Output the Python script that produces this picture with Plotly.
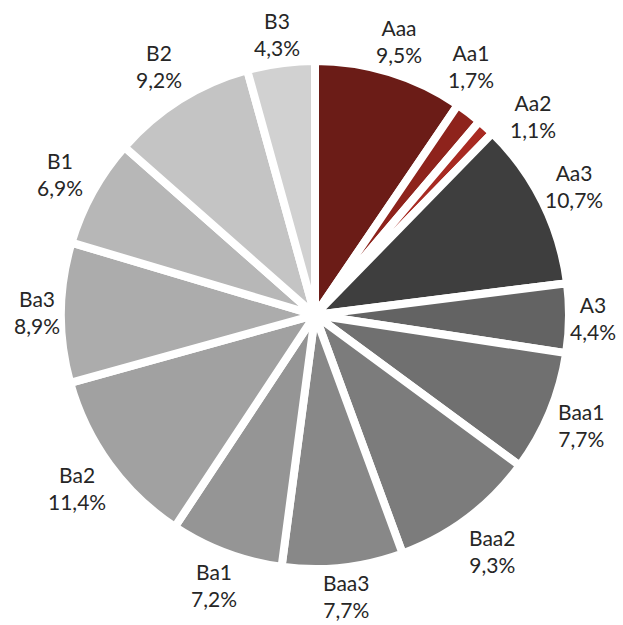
import math
import plotly.graph_objects as go

# ---- data ----
ratings = ["Aaa", "Aa1", "Aa2", "Aa3", "A3", "Baa1", "Baa2", "Baa3",
           "Ba1", "Ba2", "Ba3", "B1", "B2", "B3"]
shares = [9.5, 1.7, 1.1, 10.7, 4.4, 7.7, 9.3, 7.7, 7.2, 11.4, 8.9, 6.9, 9.2, 4.3]
slice_colors = ["#6B1C17", "#8E231C", "#A82A22", "#3E3E3E", "#636363", "#707070",
                "#7C7C7C", "#888888", "#959595", "#A1A1A1", "#ACACAC", "#B7B7B7",
                "#C4C4C4", "#D1D1D1"]

W, H = 623, 625
CX, CY = 315, 315          # pie centre in px
BORDER = 8
R_VIS = 250                # visible radius
R_PLOT = R_VIS + BORDER / 2
ml = CX - R_PLOT
mt = CY - R_PLOT
mr = W - (CX + R_PLOT)
mb = H - (CY + R_PLOT)
PW = 2 * R_PLOT
PH = 2 * R_PLOT

fig = go.Figure(go.Pie(
    labels=ratings,
    values=shares,
    sort=False,
    direction="clockwise",
    rotation=0,
    marker=dict(colors=slice_colors, line=dict(color="white", width=BORDER)),
    textinfo="none",
    hoverinfo="label+percent",
    showlegend=False,
))

# ---- label placement (Excel-like outside labels) ----
def fmt(v):
    return f"{v:.1f}".replace(".", ",") + "%"

texts = [f"{n}<br>{fmt(v)}" for n, v in zip(ratings, shares)]
total = sum(shares)
angles = []
cum = 0
for v in shares:
    angles.append(2 * math.pi * (cum + v / 2) / total)
    cum += v
boxw = [max(len(n), len(fmt(v))) * 11.5 for n, v in zip(ratings, shares)]
boxh = 44
PAD = 16

def center(i, a):
    s, c = math.sin(a), math.cos(a)
    r = R_VIS + 48 - 20 * abs(s) ** 8 - 16 * abs(c) ** 8
    return CX + r * s, CY - r * c

def overlap(i, j):
    xi, yi = center(i, angles[i])
    xj, yj = center(j, angles[j])
    return (abs(xi - xj) < (boxw[i] + boxw[j]) / 2 + PAD) and (abs(yi - yj) < boxh + PAD)

n = len(ratings)
step = math.radians(0.25)
for _ in range(2000):
    moved = False
    for i in range(n):
        j = (i + 1) % n
        if overlap(i, j):
            angles[i] -= step
            angles[j] += step
            moved = True
    if not moved:
        break

for i in range(n):
    x, y = center(i, angles[i])
    fig.add_annotation(
        x=(x - ml) / PW, y=1 - (y - mt) / PH,
        xref="paper", yref="paper",
        text=texts[i], showarrow=False,
        xanchor="center", yanchor="middle", align="center",
        font=dict(family="Lato", size=21, color="#262626"),
    )

fig.update_layout(
    width=W, height=H,
    margin=dict(l=ml, r=mr, t=mt, b=mb, pad=0),
    paper_bgcolor="white",
    plot_bgcolor="white",
)

fig.write_html("out.html", config={"displayModeBar": False},
               post_script="document.body.style.margin='0';")
